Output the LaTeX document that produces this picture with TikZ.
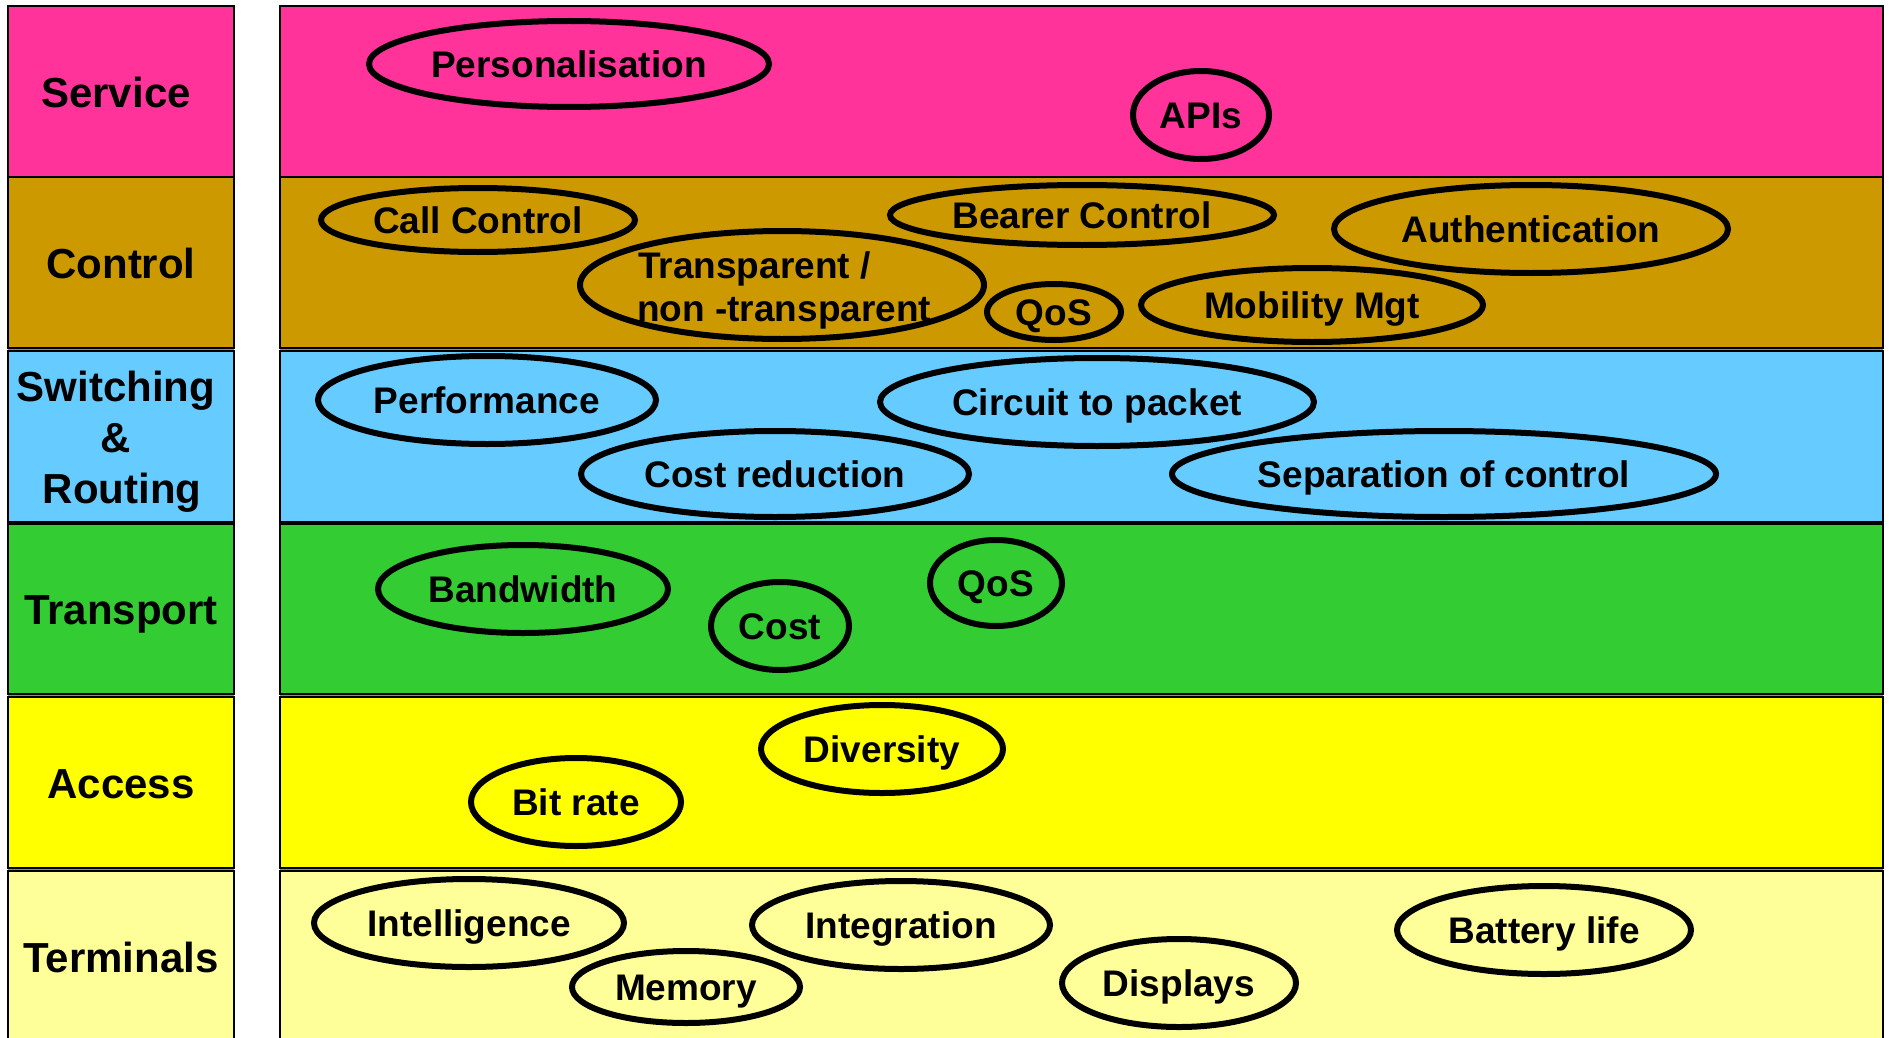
\documentclass[tikz,border=0pt]{standalone}
\usepackage{fontspec}
\setmainfont{Liberation Sans}
\usetikzlibrary{shapes.geometric}
\definecolor{cserv}{HTML}{FF3399}
\definecolor{cctrl}{HTML}{CC9900}
\definecolor{cswit}{HTML}{66CCFF}
\definecolor{ctran}{HTML}{33CC33}
\definecolor{cacc}{HTML}{FFFF00}
\definecolor{cterm}{HTML}{FFFF99}
\newcommand\mybubble[6]{%
  \node[bub, minimum width={2*#4*1pt}, minimum height={2*#5*1pt}] (#1) at (#2,#3) {};
  \node[btxt] (#1-t) at (#2,#3) {#6};}
\begin{document}
\begin{tikzpicture}[x=1pt,y=-1pt,
  rowbox/.style={draw=black, line width=2pt},
  gapbar/.style={fill=black!45, draw=none},
  bub/.style={draw=black, line width=6pt, ellipse, inner sep=0pt, outer sep=0pt},
  btxt/.style={font=\fontsize{37}{44}\selectfont\bfseries, inner sep=0pt, text height=26.5pt, text depth=0pt},
  lab/.style={font=\fontsize{42}{50}\selectfont\bfseries, inner sep=0pt, text height=30.1pt, text depth=0pt}]
\useasboundingbox (0,0) rectangle (1889,1038);
\clip (0,0) rectangle (1889,1038);
\fill[white] (0,0) rectangle (1889,1038);
% gaps
\foreach \ya/\yb in {348/351, 522/524, 694/697, 868/871} {
  \fill[gapbar] (8,\ya) rectangle (234,\yb);
  \fill[gapbar] (280,\ya) rectangle (1883,\yb);
}
% rows
\foreach \ya/\yb/\c in {6/177/cserv, 177/348/cctrl, 351/522/cswit, 524/694/ctran, 697/868/cacc, 871/1042/cterm} {
  \draw[rowbox, fill=\c] (8,\ya) rectangle (234,\yb);
  \draw[rowbox, fill=\c] (280,\ya) rectangle (1883,\yb);
}
% labels
\node[lab] (lserv) at (116,92) {Service};
\node[lab] (lctrl) at (121,263) {Control};
\node[lab] (lsw1) at (116,386) {Switching};
\node[lab] (lsw2) at (116,437) {\&};
\node[lab] (lsw3) at (122,488) {Routing};
\node[lab] (ltran) at (121,609) {Transport};
\node[lab] (lacc) at (121,783) {Access};
\node[lab] (lterm) at (121,957) {Terminals};
% service
\mybubble{pers}{569}{64}{200}{43}{Personalisation}
\mybubble{apis}{1201}{115}{68}{44}{APIs}
% control
\mybubble{callc}{478}{220}{157}{32}{Call Control}
\mybubble{bearc}{1082}{215}{192}{30}{Bearer Control}
\mybubble{auth}{1531}{229}{197}{44}{Authentication}
\node[bub, minimum width=404pt, minimum height=108pt] (transp) at (782,285) {};
\node[btxt, anchor=west] (transp-t1) at (638,265) {Transparent /};
\node[btxt, anchor=west] (transp-t2) at (637,308) {non -transparent};
\mybubble{qosc}{1054}{312}{67}{28}{QoS}
\mybubble{mobm}{1312}{305}{171}{37}{Mobility Mgt}
% switching
\mybubble{perf}{487}{400}{169}{44}{Performance}
\mybubble{circ}{1097}{402}{217}{44}{Circuit to packet}
\mybubble{costr}{775}{474}{194}{43}{Cost reduction}
\mybubble{sepc}{1444}{474}{272}{43}{Separation of control}
% transport
\mybubble{bandw}{523}{589}{145}{44}{Bandwidth}
\mybubble{cost}{780}{626}{69}{44}{Cost}
\mybubble{qost}{996}{583}{66}{43}{QoS}
% access
\mybubble{divers}{882}{749}{121}{44}{Diversity}
\mybubble{bitr}{576}{802}{105}{44}{Bit rate}
% terminals
\mybubble{intel}{469}{923}{155}{44}{Intelligence}
\mybubble{integ}{901}{925}{149}{44}{Integration}
\mybubble{memo}{686}{987}{114}{36}{Memory}
\mybubble{displ}{1179}{983}{117}{44}{Displays}
\mybubble{batt}{1544}{930}{147}{44}{Battery life}
\end{tikzpicture}
\end{document}
